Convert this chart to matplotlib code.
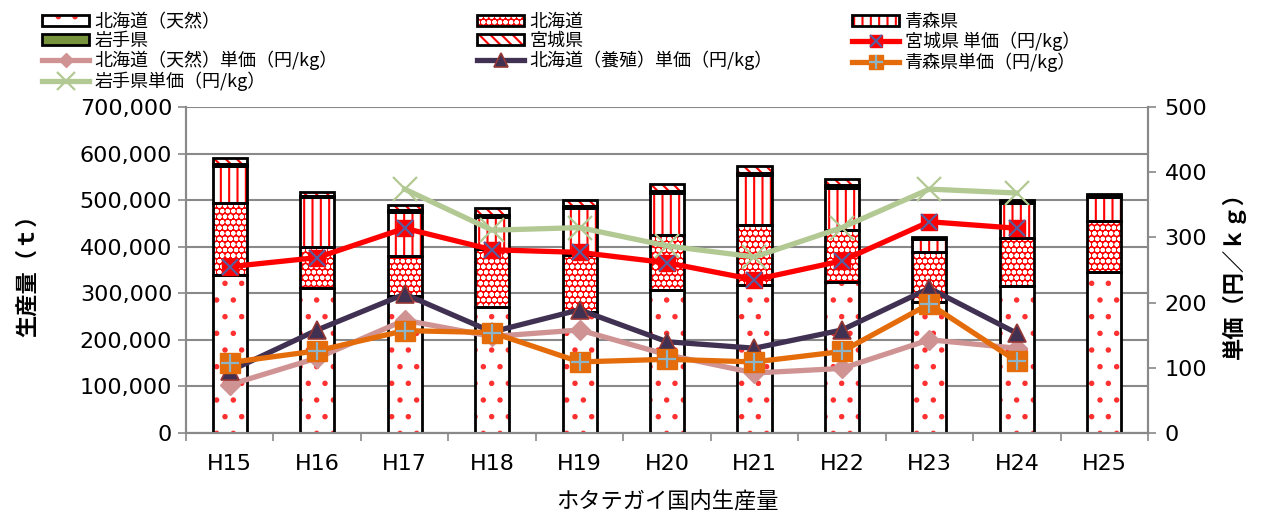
import numpy as np
import matplotlib
matplotlib.use('Agg')
import matplotlib.pyplot as plt
from matplotlib.patches import Patch
from matplotlib.legend_handler import HandlerTuple

plt.rcParams['font.family'] = ['Noto Sans CJK JP', 'DejaVu Sans']
plt.rcParams['hatch.linewidth'] = 1.5

years = ['H15', 'H16', 'H17', 'H18', 'H19', 'H20', 'H21', 'H22', 'H23', 'H24', 'H25']

# production (t)
hokkaido_wild = [340000, 311000, 295000, 271000, 260000, 307000, 318000, 325000, 282000, 315000, 346000]
hokkaido_farm = [153000, 89000, 84000, 124000, 122000, 118000, 129000, 111000, 106000, 103000, 109000]
aomori = [80000, 106000, 96000, 69000, 100000, 90000, 107000, 91000, 28000, 75000, 51000]
iwate = [5000, 3000, 3000, 4000, 5000, 5000, 5000, 6000, 1000, 2000, 3000]
miyagi = [12000, 9000, 11000, 14000, 14000, 14000, 14000, 12000, 4000, 5000, 5000]

# unit price (yen/kg), H15-H24
price_miyagi = [255, 269, 314, 281, 277, 261, 235, 264, 324, 314]
price_hk_wild = [74, 115, 173, 148, 158, 120, 92, 99, 143, 130]
price_hk_farm = [95, 158, 213, 155, 189, 140, 130, 158, 222, 153]
price_aomori = [108, 126, 157, 154, 109, 113, 109, 125, 198, 110]
price_iwate = [np.nan, np.nan, 374, 311, 315, 287, 270, 315, 374, 368]

GRAY = '#898989'
JP = ['Noto Sans CJK JP', 'DejaVu Sans']
NUM = ['DejaVu Sans']

fig = plt.figure(figsize=(12.76, 5.17), dpi=100)
ax = fig.add_axes([0.1458, 0.1625, 0.7539, 0.6306])
ax2 = ax.twinx()

x = np.arange(len(years))
w = 0.39

# stacked bars: (values, face, hatch colour, hatch)
stack = [
    (hokkaido_wild, 'white', '#FF3030', '.'),
    (hokkaido_farm, '#FF0000', 'white', 'ooo'),
    (aomori, 'white', '#FF0000', '||'),
    (iwate, '#77933C', '#77933C', None),
    (miyagi, 'white', '#FF0000', '\\\\\\'),
]
bottom = np.zeros(len(years))
bar_handles = []
for vals, face, hcol, hatch in stack:
    vals = np.array(vals, dtype=float)
    ax.bar(x, vals, w, bottom=bottom, color=face, edgecolor=hcol, hatch=hatch,
           linewidth=0, zorder=2)
    ax.bar(x, vals, w, bottom=bottom, fill=False, edgecolor='black',
           linewidth=2, zorder=3)
    bottom += vals
    bar_handles.append((Patch(facecolor=face, edgecolor=hcol, hatch=hatch, linewidth=0),
                        Patch(fill=False, edgecolor='black', linewidth=2)))

xp = np.arange(len(price_miyagi))

l_miyagi = ax2.plot(xp, price_miyagi, color='#FF0000', lw=3.8, marker='s', ms=12,
                    mfc='#FF0000', mec='#FF0000', zorder=3)[0]
x_miyagi = ax2.plot(xp, price_miyagi, ls='none', marker='x', ms=12, mew=1.6,
                    color='#5B5B9B', zorder=3)[0]
l_wild = ax2.plot(xp, price_hk_wild, color='#D09393', lw=3.8, marker='D', ms=10,
                  mfc='#D09393', mec='#D09393', zorder=4)[0]
l_farm = ax2.plot(xp, price_hk_farm, color='#403152', lw=3.8, marker='^', ms=13,
                  mfc='#403152', mec='#953735', mew=1.2, zorder=5)[0]
l_aomori = ax2.plot(xp, price_aomori, color='#E46C0A', lw=3.8, marker='s', ms=14,
                    mfc='#E46C0A', mec='#E46C0A', zorder=6)[0]
p_aomori = ax2.plot(xp, price_aomori, ls='none', marker='+', ms=13, mew=1.6,
                    color='#8EB4C8', zorder=6)[0]
l_iwate = ax2.plot(xp, price_iwate, color='#B3C993', lw=3.8, marker='x', ms=17,
                   mew=1.6, mec='#B3C993', zorder=7)[0]

# axes
ax.set_xlim(-0.5, len(years) - 0.5)
ax.set_ylim(0, 700000)
ax2.set_ylim(0, 500)
ax.set_yticks(np.arange(0, 700001, 100000))
ax2.set_yticks(np.arange(0, 501, 100))
ax.set_yticklabels([f'{v:,}' for v in range(0, 700001, 100000)], family=NUM, fontsize=16)
ax2.set_yticklabels([str(v) for v in range(0, 501, 100)], family=NUM, fontsize=16)
ax.set_xticks(x)
ax.set_xticklabels(years, family=NUM, fontsize=16)
ax.set_xticks(np.arange(-0.5, len(years)), minor=True)
ax.tick_params(axis='x', which='major', length=0, pad=15)
ax.tick_params(axis='x', which='minor', length=6, color=GRAY, width=1.2)
ax.tick_params(axis='y', length=6, color=GRAY, width=1.2, pad=4)
ax2.tick_params(axis='y', length=6, color=GRAY, width=1.2, pad=6)

ax.grid(axis='y', color=GRAY, lw=1.5)
ax.set_axisbelow(True)
for a in (ax, ax2):
    a.spines['top'].set_visible(False)
    for s in ('left', 'right', 'bottom'):
        a.spines[s].set_color(GRAY)
        a.spines[s].set_linewidth(1.5)

ax.set_ylabel('生産量（ｔ）', family=JP, fontsize=16, fontweight='bold')
ax.yaxis.set_label_coords(-0.153, 0.5)
ax2.set_ylabel('単価（円／ｋｇ）', family=JP, fontsize=16, fontweight='bold', rotation=90)
ax2.yaxis.set_label_coords(1.077, 0.5)
ax.set_xlabel('ホタテガイ国内生産量', family=JP, fontsize=16, labelpad=12)

# legend, three columns placed side by side
h_miyagi = (l_miyagi, x_miyagi)
h_aomori = (l_aomori, p_aomori)
columns = [
    (0.033, [bar_handles[0], bar_handles[3], l_wild, l_iwate],
     ['北海道（天然）', '岩手県', '北海道（天然）単価（円/kg）', '岩手県単価（円/kg）']),
    (0.374, [bar_handles[1], bar_handles[4], l_farm],
     ['北海道', '宮城県', '北海道（養殖）単価（円/kg）']),
    (0.668, [bar_handles[2], h_miyagi, h_aomori],
     ['青森県', '宮城県 単価（円/kg）', '青森県単価（円/kg）']),
]
for xpos, handles, labels in columns:
    fig.legend(handles, labels, loc='upper left', bbox_to_anchor=(xpos, 0.975),
               frameon=False, borderpad=0, borderaxespad=0, handlelength=2.6,
               handleheight=0.6, handletextpad=0.3, labelspacing=0.05,
               markerscale=0.75, prop={'family': JP, 'size': 13},
               handler_map={tuple: HandlerTuple(ndivide=1)})

plt.savefig('out.png', dpi=100)
